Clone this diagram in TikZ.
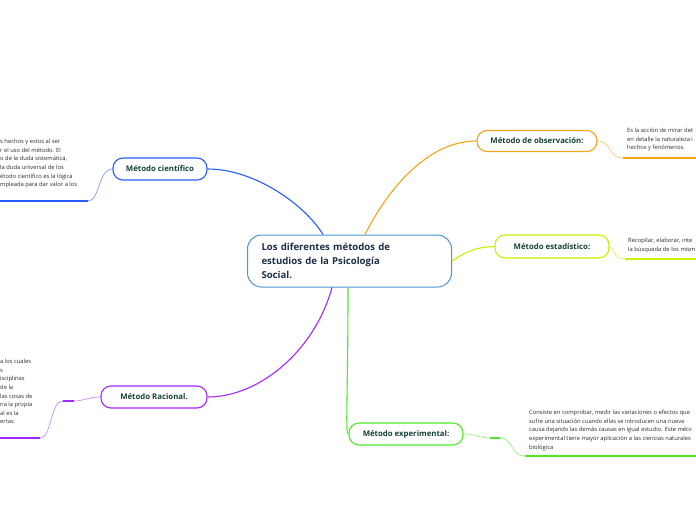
\documentclass[tikz,border=0pt]{standalone}
\usepackage{fontspec}
\setmainfont{Open Sans}
\definecolor{centralc}{HTML}{4A94CF}
\definecolor{centtext}{HTML}{1C2E4A}
\definecolor{nodetext}{HTML}{17423A}
\definecolor{desctext}{HTML}{2B2B2B}
\definecolor{cientc}{HTML}{2A5CFF}
\definecolor{cientl}{HTML}{7F9BFF}
\definecolor{racioc}{HTML}{A526FF}
\definecolor{raciol}{HTML}{C98AFF}
\definecolor{obsc}{HTML}{F7A21B}
\definecolor{obsl}{HTML}{F9C574}
\definecolor{estc}{HTML}{CDEF00}
\definecolor{estl}{HTML}{DDF560}
\definecolor{expc}{HTML}{4FE82A}
\definecolor{expl}{HTML}{97F27E}
\begin{document}
\begin{tikzpicture}[x=1pt,y=-1pt]
\tikzset{
  topic/.style={draw, line width=1.1pt, rounded corners=10pt, fill=white,
    minimum height=22pt, inner sep=0pt, text=nodetext,
    font=\fontsize{7.8}{9}\selectfont\bfseries},
  desc/.style={anchor=north west, align=left, inner sep=0pt, text=desctext,
    font=\fontsize{5.8}{8.6}\selectfont},
  conn/.style={line width=1.1pt},
  sub/.style={line width=0.7pt},
  uline/.style={line width=2.2pt}
}
\useasboundingbox[fill=white] (0,0) rectangle (696,520);

% central node
\node[draw=centralc, line width=1pt, rounded corners=14pt, fill=white,
  minimum width=204pt, minimum height=52pt, text width=176pt, align=left,
  inner xsep=14pt, text=centtext, font=\fontsize{9.6}{14}\selectfont\bfseries]
  (c) at (349.5,261) {Los diferentes métodos de\\estudios de la Psicología\\Social.};

% topic nodes
\node[topic, draw=cientc, minimum width=94pt] (cien) at (160,169) {Método científico};
\node[topic, draw=racioc, minimum width=106pt] (raci) at (154,397) {Método Racional.};
\node[topic, draw=obsc, minimum width=120pt, minimum height=21pt] (obs) at (537,141) {Método de observación:};
\node[topic, draw=estc, minimum width=114pt, minimum height=23pt] (est) at (552,246.5) {Método estadístico:};
\node[topic, draw=expc, minimum width=114pt] (exp) at (406,434) {Método experimental:};

% main connectors
\draw[conn, cientc] (c.north west) ++(76,0) coordinate (c1)
  .. controls (305,205) and (255,169) .. (cien.east);
\draw[conn, obsc] (c.north west) ++(118,0) coordinate (c2)
  .. controls (390,185) and (430,141) .. (obs.west);
\draw[conn, estc] (c.east) .. controls (470,249) and (480,247) .. (est.west);
\draw[conn, racioc] (c.south west) ++(85,0) coordinate (c3)
  .. controls (315,350) and (260,397) .. (raci.east);
\draw[conn, expc] (c.south west) ++(101,0) coordinate (c4)
  .. controls (348,400) and (345,434) .. (exp.west);

% científico description
\coordinate (cu1) at (88,201);
\coordinate (cu0) at (0,201);
\draw[sub, cientl] (cien.west) .. controls (98,169) and (100,201) .. (cu1);
\draw[uline, cientc] (cu1) -- (cu0);
\node[desc] (cdesc) at (0,139) {s hechos y estos al ser\\r el uso del método. El\\o de la duda sistemática,\\la duda universal de los\\étodo científico es la lógica\\mpleada para dar valor a los};

% racional description
\coordinate (rm1) at (74,401);
\coordinate (rm0) at (63,401);
\coordinate (ru1) at (40,438);
\coordinate (ru0) at (0,438);
\draw[sub, raciol] (raci.west) .. controls (88,397) and (84,401) .. (rm1);
\draw[line width=1.6pt, racioc] (rm1) -- (rm0);
\draw[sub, raciol] (rm0) .. controls (50,401) and (52,438) .. (ru1);
\draw[uline, racioc] (ru1) -- (ru0);
\node[desc] (rdesc) at (0,359) {a los cuales\\s\\isciplinas\\de la\\las cosas de\\na la propia\\al es la\\ertas};

% observación description
\coordinate (ou1) at (623,158);
\coordinate (ou0) at (696,158);
\draw[sub, obsl] (obs.east) .. controls (612,141) and (608,158) .. (ou1);
\draw[uline, obsc] (ou1) -- (ou0);
\node[desc] (odesc) at (627,128) {Es la acción de mirar det\\en detalle la naturaleza i\\hechos y fenómenos.};

% estadístico description
\coordinate (eu1) at (625,259);
\coordinate (eu0) at (696,259);
\draw[sub, estl] (est.east) .. controls (615,247) and (612,259) .. (eu1);
\draw[uline, estc] (eu1) -- (eu0);
\node[desc] (edesc) at (628,238) {Recopilar, elaborar, inte\\la búsqueda de los mism};

% experimental description
\coordinate (xm1) at (490,438);
\coordinate (xm0) at (500,438);
\coordinate (xu1) at (525,456);
\coordinate (xu0) at (696,456);
\draw[sub, expl] (exp.east) .. controls (476,434) and (480,438) .. (xm1);
\draw[line width=1.6pt, expc] (xm1) -- (xm0);
\draw[sub, expl] (xm0) .. controls (514,438) and (510,456) .. (xu1);
\draw[uline, expc] (xu1) -- (xu0);
\node[desc] (xdesc) at (529,410) {Consiste en comprobar, medir las variaciones o efectos que\\sufre una situación cuando ellas se introducen una nueva\\causa dejando las demás causas en igual estudio. Este méto\\experimental tiene mayor aplicación a las ciencias naturales\\biológica};
\end{tikzpicture}
\end{document}
